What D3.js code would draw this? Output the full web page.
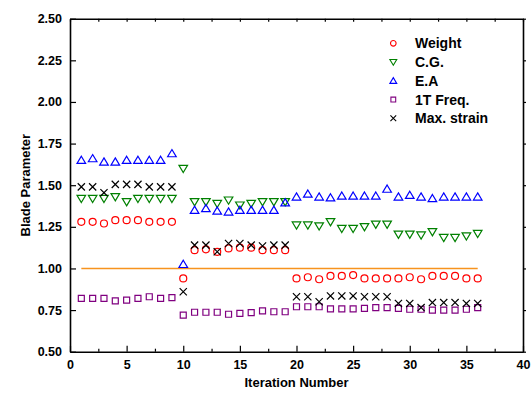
<!DOCTYPE html>
<html>
<head>
<meta charset="utf-8">
<script src="https://cdn.jsdelivr.net/npm/d3@7"></script>
<style>
  body { margin: 0; background: #fff; }
  svg text { font-family: Arial, "Liberation Sans", sans-serif; font-weight: bold; fill: #000; }
</style>
</head>
<body>
<div id="chart"></div>
<script>
const iterations = [1, 2, 3, 4, 5, 6, 7, 8, 9, 10, 11, 12, 13, 14, 15, 16, 17, 18,
  19, 20, 21, 22, 23, 24, 25, 26, 27, 28, 29, 30, 31, 32, 33, 34, 35, 36];

const weight = [1.28, 1.28, 1.27, 1.29, 1.29, 1.29, 1.28, 1.28, 1.28,
  0.94,
  1.11, 1.115, 1.10, 1.12, 1.125, 1.125, 1.11, 1.11, 1.11,
  0.94, 0.947, 0.935, 0.955, 0.955, 0.96, 0.94, 0.94, 0.94, 0.94, 0.947, 0.935, 0.955, 0.955, 0.955, 0.94, 0.94];

const cg = [1.42, 1.42, 1.42, 1.43, 1.40, 1.42, 1.42, 1.42, 1.42,
  1.60,
  1.40, 1.40, 1.39, 1.41, 1.38, 1.39, 1.40, 1.40, 1.40,
  1.26, 1.26, 1.255, 1.28, 1.24, 1.24, 1.25, 1.265, 1.265, 1.205, 1.205, 1.20, 1.22, 1.185, 1.185, 1.195, 1.21];

const ea = [1.65, 1.66, 1.64, 1.64, 1.65, 1.65, 1.65, 1.65, 1.69,
  1.025,
  1.35, 1.36, 1.345, 1.34, 1.35, 1.35, 1.35, 1.35, 1.395,
  1.43, 1.447, 1.43, 1.425, 1.435, 1.435, 1.435, 1.435, 1.477, 1.43, 1.44, 1.43, 1.42, 1.43, 1.43, 1.43, 1.43];

const freq1T = [0.82, 0.82, 0.82, 0.805, 0.81, 0.82, 0.83, 0.82, 0.825,
  0.72,
  0.737, 0.737, 0.737, 0.725, 0.73, 0.735, 0.745, 0.74, 0.74,
  0.77, 0.77, 0.77, 0.757, 0.757, 0.757, 0.76, 0.765, 0.765, 0.76, 0.755, 0.755, 0.75, 0.75, 0.75, 0.755, 0.765];

const maxStrain = [1.49, 1.49, 1.455, 1.505, 1.505, 1.505, 1.49, 1.49, 1.49,
  0.86,
  1.14, 1.14, 1.10, 1.15, 1.15, 1.14, 1.135, 1.14, 1.14,
  0.83, 0.83, 0.80, 0.835, 0.835, 0.835, 0.83, 0.83, 0.83, 0.79, 0.79, 0.765, 0.795, 0.795, 0.795, 0.79, 0.79];

const seriesNames = ["Weight", "C.G.", "E.A", "1T Freq.", "Max. strain"];
const refLineX = [1, 36];
const refLineValue = 1.0;
const xTicks = [0, 5, 10, 15, 20, 25, 30, 35, 40];
const xMinorTicks = [2.5, 7.5, 12.5, 17.5, 22.5, 27.5, 32.5, 37.5];
const yTicks = [0.50, 0.75, 1.00, 1.25, 1.50, 1.75, 2.00, 2.25, 2.50];

const svgWidth = 532;
const svgHeight = 398;
const margin = { top: 18.7, right: 9, bottom: 46.3, left: 70 };
const width = svgWidth - margin.left - margin.right;
const height = svgHeight - margin.top - margin.bottom;

const svg = d3.select("#chart")
  .append("svg")
  .attr("width", svgWidth)
  .attr("height", svgHeight)
  .append("g")
  .attr("transform", `translate(${margin.left},${margin.top})`);

const x = d3.scaleLinear().domain([0, 40]).range([0, width]);
const y = d3.scaleLinear().domain([0.5, 2.5]).range([height, 0]);

// symbols drawn around (0,0)
const shapes = {
  circle: s => `M${3.5 * s},0A${3.5 * s},${3.5 * s} 0 1,1 ${-3.5 * s},0A${3.5 * s},${3.5 * s} 0 1,1 ${3.5 * s},0Z`,
  down: s => `M0,${4 * s}L${4.3 * s},${-3.2 * s}L${-4.3 * s},${-3.2 * s}Z`,
  up: s => `M0,${-4 * s}L${4.3 * s},${3.2 * s}L${-4.3 * s},${3.2 * s}Z`,
  square: s => `M${-3 * s},${-3 * s}h${6 * s}v${6 * s}h${-6 * s}Z`,
  cross: s => `M${-3.6 * s},${-3.6 * s}L${3.6 * s},${3.6 * s}M${3.6 * s},${-3.6 * s}L${-3.6 * s},${3.6 * s}`
};

const series = [
  { name: seriesNames[0], values: weight, color: "#ff0000", shape: "circle" },
  { name: seriesNames[1], values: cg, color: "#008000", shape: "down" },
  { name: seriesNames[2], values: ea, color: "#0000ff", shape: "up" },
  { name: seriesNames[3], values: freq1T, color: "#800080", shape: "square" },
  { name: seriesNames[4], values: maxStrain, color: "#000000", shape: "cross" }
];

// reference line at 1.0
svg.append("line")
  .attr("x1", x(refLineX[0]))
  .attr("x2", x(refLineX[1]))
  .attr("y1", y(refLineValue))
  .attr("y2", y(refLineValue))
  .attr("stroke", "#f7931e")
  .attr("stroke-width", 1.6);

series.forEach(s => {
  svg.append("g")
    .selectAll("path")
    .data(s.values)
    .enter()
    .append("path")
    .attr("transform", (d, i) => `translate(${x(iterations[i])},${y(d)})`)
    .attr("d", shapes[s.shape](1))
    .attr("fill", "none")
    .attr("stroke", s.color)
    .attr("stroke-width", 1.2);
});

// axes
const bottomAxis = svg.append("g")
  .attr("transform", `translate(0,${height})`)
  .call(d3.axisBottom(x).tickValues(xTicks).tickSize(-6).tickSizeOuter(0).tickPadding(8).tickFormat(d3.format("d")));
svg.append("g")
  .attr("transform", `translate(0,${height})`)
  .call(d3.axisBottom(x).tickValues(xMinorTicks).tickSize(-3).tickFormat(""))
  .select(".domain").remove();

const leftAxis = svg.append("g")
  .call(d3.axisLeft(y).tickValues(yTicks).tickSize(-6).tickSizeOuter(0).tickPadding(8).tickFormat(d3.format(".2f")));

const topAxis = svg.append("g")
  .call(d3.axisTop(x).tickValues(xTicks.concat(xMinorTicks)).tickSize(-3).tickSizeOuter(0).tickFormat(""));

const rightAxis = svg.append("g")
  .attr("transform", `translate(${width},0)`)
  .call(d3.axisRight(y).tickValues(yTicks).tickSize(3).tickSizeOuter(0).tickFormat(""));

[bottomAxis, leftAxis, topAxis, rightAxis].forEach(g => {
  g.select(".domain").attr("stroke", "#000").attr("stroke-width", 1.6);
});
svg.selectAll(".tick line").attr("stroke", "#000").attr("stroke-width", 1.2);

[bottomAxis, leftAxis].forEach(g => {
  g.selectAll("text")
    .style("font-size", "12.5px")
    .style("font-family", "Arial, 'Liberation Sans', sans-serif")
    .style("font-weight", "bold")
    .attr("fill", "#000");
});

// axis titles
svg.append("text")
  .attr("x", width / 2)
  .attr("y", height + 35)
  .attr("text-anchor", "middle")
  .style("font-size", "13px")
  .text("Iteration Number");

svg.append("text")
  .attr("transform", `translate(${25 - margin.left},${height / 2}) rotate(-90)`)
  .attr("text-anchor", "middle")
  .attr("dy", "0.35em")
  .style("font-size", "13px")
  .text("Blade Parameter");

// legend
const legend = svg.append("g")
  .attr("transform", `translate(${393.3 - margin.left},${43.3 - margin.top})`);

series.forEach((s, i) => {
  const row = legend.append("g").attr("transform", `translate(0,${i * 18.75})`);
  row.append("path")
    .attr("d", shapes[s.shape](0.8))
    .attr("fill", "none")
    .attr("stroke", s.color)
    .attr("stroke-width", 1.1);
  row.append("text")
    .attr("x", 21.7)
    .attr("dy", "0.36em")
    .style("font-size", "14px")
    .text(s.name);
});
</script>
</body>
</html>
